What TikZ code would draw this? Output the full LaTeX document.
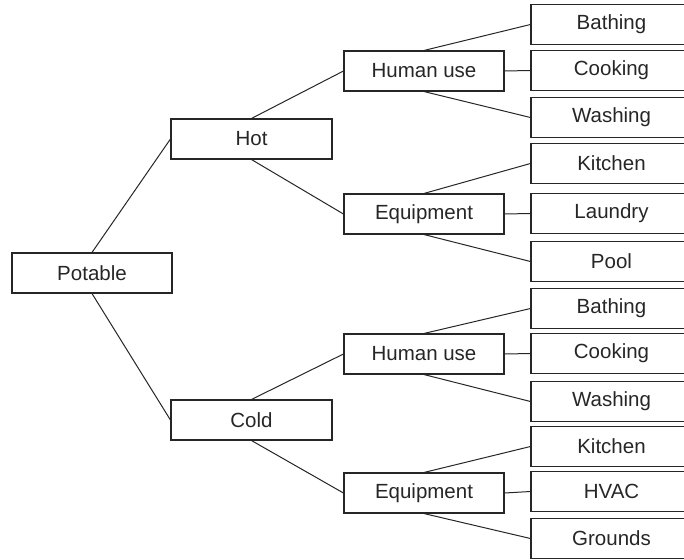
\documentclass[tikz,border=0pt]{standalone}
\usepackage{fontspec}
\setmainfont{Liberation Sans}
\begin{document}
\begin{tikzpicture}[x=1pt,y=-1pt,
  box/.style={draw=black!85,line width=1.1pt,rectangle,inner sep=0pt,minimum height=40pt,
    font=\fontsize{20.5}{24}\selectfont,text=black!85},
  mid/.style={box,minimum width=160pt},
  leaf/.style={box,minimum width=161pt,minimum height=39.5pt},
  link/.style={draw=black!85,line width=1pt}]
\useasboundingbox (0,0) rectangle (684,559);
\clip (0,0) rectangle (684,559);
\node[mid] (pot) at (92,273) {Potable};
\node[box,minimum width=161pt] (hot) at (251.5,139) {Hot};
\node[box,minimum width=161pt] (cold) at (251.5,420) {Cold};
\node[mid] (hhu) at (424,71) {Human use};
\node[mid] (heq) at (424,214) {Equipment};
\node[mid] (chu) at (424,354) {Human use};
\node[mid] (ceq) at (424,493) {Equipment};
\node[leaf] (l1) at (611.5,24.5) {Bathing};
\node[leaf] (l2) at (611.5,70.5) {Cooking};
\node[leaf] (l3) at (611.5,117.5) {Washing};
\node[leaf] (l4) at (611.5,163.5) {Kitchen};
\node[leaf] (l5) at (611.5,213.5) {Laundry};
\node[leaf] (l6) at (611.5,261.5) {Pool};
\node[leaf] (l7) at (611.5,308.5) {Bathing};
\node[leaf] (l8) at (611.5,353.5) {Cooking};
\node[leaf] (l9) at (611.5,401.5) {Washing};
\node[leaf] (l10) at (611.5,446.5) {Kitchen};
\node[leaf] (l11) at (611.5,491.5) {HVAC};
\node[leaf] (l12) at (611.5,538.5) {Grounds};
\draw[link] (pot.north) -- (hot.west);
\draw[link] (pot.south) -- (cold.west);
\draw[link] (hot.north) -- (hhu.west);
\draw[link] (hot.south) -- (heq.west);
\draw[link] (cold.north) -- (chu.west);
\draw[link] (cold.south) -- (ceq.west);
\draw[link] (hhu.north) -- (l1.west);
\draw[link] (hhu.east) -- (l2.west);
\draw[link] (hhu.south) -- (l3.west);
\draw[link] (heq.north) -- (l4.west);
\draw[link] (heq.east) -- (l5.west);
\draw[link] (heq.south) -- (l6.west);
\draw[link] (chu.north) -- (l7.west);
\draw[link] (chu.east) -- (l8.west);
\draw[link] (chu.south) -- (l9.west);
\draw[link] (ceq.north) -- (l10.west);
\draw[link] (ceq.east) -- (l11.west);
\draw[link] (ceq.south) -- (l12.west);
\end{tikzpicture}
\end{document}
